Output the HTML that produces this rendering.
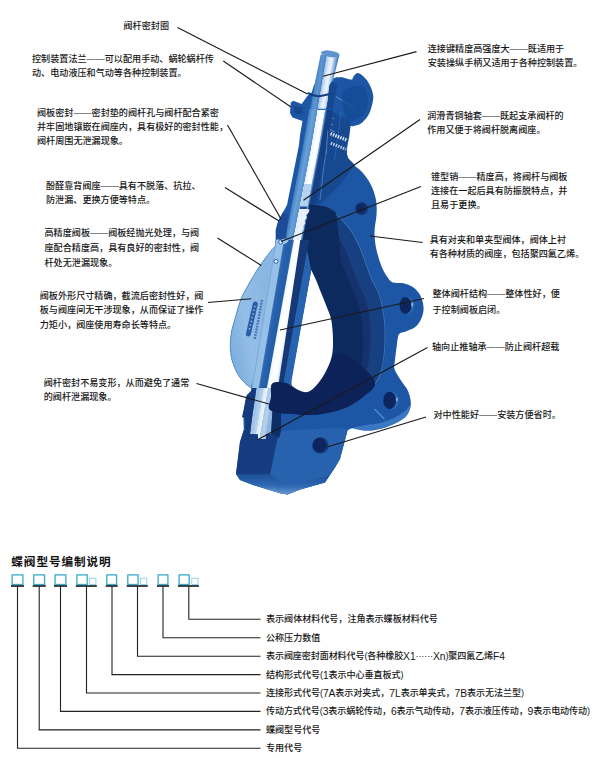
<!DOCTYPE html>
<html lang="zh-CN"><head><meta charset="utf-8"><title>蝶阀结构特点</title>
<style>
html,body{margin:0;padding:0;background:#fff;}
body{width:600px;height:758px;overflow:hidden;}
svg{display:block;font-family:"Liberation Sans","Noto Sans CJK SC",sans-serif;}
</style></head><body>
<svg width="600" height="758" viewBox="0 0 600 758">
<rect width="600" height="758" fill="#fff"/>
<filter id="soft" x="-5%" y="-5%" width="110%" height="110%"><feGaussianBlur stdDeviation="0.45"/></filter>
<g filter="url(#soft)">
<defs><linearGradient id="gCol" gradientUnits="userSpaceOnUse" x1="312.07" y1="98.12" x2="331.22" y2="101.37"><stop offset="0.0000" stop-color="#2b66b0"/><stop offset="0.0457" stop-color="#4a86c8"/><stop offset="0.2234" stop-color="#5f97d3"/><stop offset="0.3553" stop-color="#4a84c6"/><stop offset="0.3858" stop-color="#a5c6e9"/><stop offset="0.5279" stop-color="#dbe8f7"/><stop offset="0.6701" stop-color="#eef4fb"/><stop offset="0.7614" stop-color="#bdd5ee"/><stop offset="0.8579" stop-color="#7facdc"/><stop offset="1.0000" stop-color="#2e69b3"/></linearGradient><linearGradient id="gNeck" gradientUnits="userSpaceOnUse" x1="305.80" y1="127.92" x2="323.40" y2="130.91"><stop offset="0.0000" stop-color="#2b66b0"/><stop offset="0.0608" stop-color="#4a86c8"/><stop offset="0.2541" stop-color="#6aa0d8"/><stop offset="0.4641" stop-color="#5590cd"/><stop offset="0.4917" stop-color="#eaf2fb"/><stop offset="0.6961" stop-color="#ffffff"/><stop offset="0.8729" stop-color="#f2f7fc"/><stop offset="0.9061" stop-color="#7fabdb"/><stop offset="1.0000" stop-color="#24589f"/></linearGradient><linearGradient id="gNeck2" gradientUnits="userSpaceOnUse" x1="292.76" y1="197.63" x2="310.20" y2="201.03"><stop offset="0.0000" stop-color="#2b66b0"/><stop offset="0.0608" stop-color="#4a86c8"/><stop offset="0.2541" stop-color="#6aa0d8"/><stop offset="0.4641" stop-color="#5590cd"/><stop offset="0.4917" stop-color="#eaf2fb"/><stop offset="0.6961" stop-color="#ffffff"/><stop offset="0.8729" stop-color="#f2f7fc"/><stop offset="0.9061" stop-color="#7fabdb"/><stop offset="1.0000" stop-color="#24589f"/></linearGradient><linearGradient id="gStem" gradientUnits="userSpaceOnUse" x1="266.24" y1="296.53" x2="305.12" y2="303.14"><stop offset="0.0000" stop-color="#9cc4e8"/><stop offset="0.1875" stop-color="#93bce3"/><stop offset="0.2000" stop-color="#2c66b0"/><stop offset="0.3250" stop-color="#245ea8"/><stop offset="0.4425" stop-color="#2f6cb6"/><stop offset="0.4550" stop-color="#eef5fc"/><stop offset="0.5750" stop-color="#ffffff"/><stop offset="0.6750" stop-color="#eaf2fb"/><stop offset="0.6950" stop-color="#163c7c"/><stop offset="0.8375" stop-color="#14397a"/><stop offset="0.8550" stop-color="#2a66b2"/><stop offset="1.0000" stop-color="#1f59a6"/></linearGradient><linearGradient id="gHubD" gradientUnits="userSpaceOnUse" x1="274.02" y1="297.85" x2="283.73" y2="299.50"><stop offset="0.0000" stop-color="#3873bb"/><stop offset="0.2000" stop-color="#2a64ae"/><stop offset="0.8000" stop-color="#235ca6"/><stop offset="1.0000" stop-color="#3a76be"/></linearGradient><linearGradient id="gWhite" gradientUnits="userSpaceOnUse" x1="281.30" y1="299.09" x2="292.48" y2="300.99"><stop offset="0.0000" stop-color="#cfe1f4"/><stop offset="0.1739" stop-color="#f4f9fd"/><stop offset="0.4783" stop-color="#ffffff"/><stop offset="0.8261" stop-color="#f6fafe"/><stop offset="1.0000" stop-color="#c5daf0"/></linearGradient><linearGradient id="gEnd" gradientUnits="userSpaceOnUse" x1="255.66" y1="405.85" x2="271.21" y2="408.50"><stop offset="0.0000" stop-color="#9fc2e6"/><stop offset="0.3125" stop-color="#b9d3ef"/><stop offset="0.3438" stop-color="#dbe8f6"/><stop offset="0.5625" stop-color="#eef4fb"/><stop offset="0.5938" stop-color="#a9c9ea"/><stop offset="0.8125" stop-color="#b7d2ee"/><stop offset="1.0000" stop-color="#8fb6df"/></linearGradient><linearGradient id="gDisc" gradientUnits="userSpaceOnUse" x1="228" y1="335" x2="272" y2="325">
<stop offset="0" stop-color="#7fb0df"/><stop offset=".45" stop-color="#94bee8"/><stop offset="1" stop-color="#8ab6e2"/></linearGradient>
<radialGradient id="gHole" cx=".42" cy=".48" r=".6"><stop offset="0" stop-color="#0d2559"/><stop offset=".72" stop-color="#132f6b"/><stop offset="1" stop-color="#1b4d98"/></radialGradient>
<linearGradient id="gBot" x1="0" y1="0" x2="0" y2="1"><stop offset="0" stop-color="#1d4f98"/><stop offset=".6" stop-color="#2f69b2"/><stop offset="1" stop-color="#6c9bd2"/></linearGradient>
</defs>
<path d="M302.5 121 L292.5 117.5 L290.0 113.0 L290.8 102.5 L293.3 100.8 L301.7 104.0 L307.5 95.8 L311.7 92.5 L314.0 85.0 L336.0 77.5 L342.0 77.2 L350.0 79.6 L352.3 79.5 L352.3 79.5 C352.6 78.9 353.1 76.8 354.0 75.7 C354.9 74.6 356.5 73.2 357.7 73.0 C358.9 72.8 359.8 73.6 361.4 74.8 C362.9 76.0 365.5 78.3 367.0 80.3 C368.5 82.3 369.6 84.5 370.6 86.8 C371.6 89.1 372.6 91.9 373.0 94.2 C373.4 96.5 373.4 98.0 373.0 100.6 C372.6 103.2 371.6 107.1 370.6 109.9 C369.6 112.7 368.7 114.9 367.0 117.2 C365.3 119.5 362.8 122.2 360.5 123.7 C358.2 125.2 355.1 125.6 353.5 126.0 C351.9 126.4 351.1 126.0 350.6 126.0 L350.6 126.0 C350.4 127.5 350.1 131.0 349.5 135.0 C348.9 139.0 347.2 146.2 347.0 150.0 C346.8 153.8 346.8 155.5 348.0 158.0 C349.2 160.5 351.6 162.6 354.0 165.0 C356.4 167.4 359.7 169.2 362.5 172.5 C365.3 175.8 368.8 180.4 371.0 185.0 C373.2 189.6 375.1 195.0 376.0 200.0 C376.9 205.0 376.8 209.6 376.5 215.0 C376.2 220.4 374.5 226.7 374.5 232.5 C374.5 238.3 375.2 244.2 376.5 250.0 C377.8 255.8 380.1 262.8 382.0 267.5 C383.9 272.2 386.5 275.7 388.0 278.0 C389.5 280.3 390.5 280.9 391.0 281.5 L391.0 281.5 C391.5 281.7 392.1 282.5 394.2 282.8 C396.3 283.1 400.4 282.6 403.5 283.3 C406.6 284.0 410.1 285.3 412.7 287.0 C415.3 288.7 417.5 290.9 419.2 293.5 C420.9 296.1 422.2 299.6 422.9 302.7 C423.6 305.8 423.8 308.9 423.3 312.0 C422.8 315.1 421.5 318.6 420.0 321.2 C418.5 323.8 416.8 325.9 414.5 327.6 C412.2 329.3 408.6 330.3 406.2 331.3 C403.8 332.3 401.2 332.5 399.8 333.6 C398.4 334.7 398.4 335.4 397.9 337.8 C397.3 340.2 397.0 344.3 396.5 348.0 C396.0 351.7 395.3 356.5 395.0 360.0 C394.7 363.5 393.6 365.7 394.5 369.0 C395.4 372.3 398.4 376.3 400.7 380.0 C402.9 383.7 406.3 387.0 408.0 391.0 C409.7 395.0 411.0 400.0 410.8 404.0 C410.6 408.0 409.3 411.9 407.0 415.0 C404.7 418.1 401.4 420.1 397.0 422.4 C392.6 424.7 385.7 427.4 380.5 428.8 C375.3 430.2 370.5 430.7 365.9 430.6 C361.3 430.5 356.1 428.3 353.0 428.3 C349.9 428.3 348.4 430.2 347.5 430.6 L347.5 430.6 L345.0 440.0 L340.0 459.0 L335.0 467.5 L325.0 482.5 L300.0 489.5 L287.5 494.5 L279.0 493.0 L253.0 485.0 L240.0 480.0 L236.0 474.0 L240.0 442.0 L243.8 430.0 L243.3 415.0 L246.7 395.0 L258.0 385.0 L275.8 238.0 L275.8 230.0 L278.3 220.8 L283.3 211.7 L287.0 205.0 L293.0 175.0 L299.0 145.0 L300.0 135.0 Z" fill="#1c57a4"/>
<path d="M326.8 108.0 L350.8 121.7 L346.0 150.0 L348.0 158.0 L355.0 165.0 L340.0 185.0 L320.0 204.0 L304.1 204.0 Z" fill="#164890" />
<clipPath id="cInner"><path d="M305.5 208.0 C308.3 202.2 311.9 204.9 316.0 205.0 C320.1 205.1 325.7 206.2 330.0 208.5 C334.3 210.8 338.3 215.2 342.0 219.0 C345.7 222.8 349.0 226.5 352.0 231.0 C355.0 235.5 357.7 240.8 360.0 246.0 C362.3 251.2 364.0 256.7 366.0 262.0 C368.0 267.3 369.7 272.5 372.0 278.0 C374.3 283.5 377.8 288.0 380.0 295.0 C382.2 302.0 384.1 311.7 385.0 320.0 C385.9 328.3 386.0 336.5 385.5 345.0 C385.0 353.5 383.8 364.3 382.0 371.0 C380.2 377.7 378.2 380.7 375.0 385.0 C371.8 389.3 368.0 393.2 363.0 397.0 C358.0 400.8 352.0 405.2 345.0 408.0 C338.0 410.8 328.5 412.9 321.0 414.0 C313.5 415.1 307.7 415.1 300.0 414.5 C292.3 413.9 280.0 412.9 275.0 410.5 C270.0 408.1 270.4 404.6 270.0 400.0 C269.6 395.4 269.2 399.7 272.5 383.0 C275.8 366.3 285.9 320.2 290.0 300.0 C294.1 279.8 295.5 272.0 297.0 262.0 C298.5 252.0 297.6 249.0 299.0 240.0 C300.4 231.0 302.7 213.8 305.5 208.0 Z"/></clipPath>
<path d="M305.5 208.0 C308.3 202.2 311.9 204.9 316.0 205.0 C320.1 205.1 325.7 206.2 330.0 208.5 C334.3 210.8 338.3 215.2 342.0 219.0 C345.7 222.8 349.0 226.5 352.0 231.0 C355.0 235.5 357.7 240.8 360.0 246.0 C362.3 251.2 364.0 256.7 366.0 262.0 C368.0 267.3 369.7 272.5 372.0 278.0 C374.3 283.5 377.8 288.0 380.0 295.0 C382.2 302.0 384.1 311.7 385.0 320.0 C385.9 328.3 386.0 336.5 385.5 345.0 C385.0 353.5 383.8 364.3 382.0 371.0 C380.2 377.7 378.2 380.7 375.0 385.0 C371.8 389.3 368.0 393.2 363.0 397.0 C358.0 400.8 352.0 405.2 345.0 408.0 C338.0 410.8 328.5 412.9 321.0 414.0 C313.5 415.1 307.7 415.1 300.0 414.5 C292.3 413.9 280.0 412.9 275.0 410.5 C270.0 408.1 270.4 404.6 270.0 400.0 C269.6 395.4 269.2 399.7 272.5 383.0 C275.8 366.3 285.9 320.2 290.0 300.0 C294.1 279.8 295.5 272.0 297.0 262.0 C298.5 252.0 297.6 249.0 299.0 240.0 C300.4 231.0 302.7 213.8 305.5 208.0 Z" fill="#12326c" />
<g clip-path="url(#cInner)"><path d="M316.0 205.0 C318.3 205.6 325.7 206.2 330.0 208.5 C334.3 210.8 338.3 215.2 342.0 219.0 C345.7 222.8 349.0 226.5 352.0 231.0 C355.0 235.5 357.7 240.8 360.0 246.0 C362.3 251.2 364.0 256.7 366.0 262.0 C368.0 267.3 369.7 272.5 372.0 278.0 C374.3 283.5 377.8 288.0 380.0 295.0 C382.2 302.0 384.1 311.7 385.0 320.0 C385.9 328.3 386.0 336.5 385.5 345.0 C385.0 353.5 383.8 364.3 382.0 371.0 C380.2 377.7 378.2 380.7 375.0 385.0 C371.8 389.3 365.0 395.0 363.0 397.0" fill="none" stroke="#173f80" stroke-width="30" stroke-linecap="butt"/><path d="M316.0 205.0 C318.3 205.6 325.7 206.2 330.0 208.5 C334.3 210.8 338.3 215.2 342.0 219.0 C345.7 222.8 349.0 226.5 352.0 231.0 C355.0 235.5 357.7 240.8 360.0 246.0 C362.3 251.2 364.0 256.7 366.0 262.0 C368.0 267.3 369.7 272.5 372.0 278.0 C374.3 283.5 377.8 288.0 380.0 295.0 C382.2 302.0 384.1 311.7 385.0 320.0 C385.9 328.3 386.0 336.5 385.5 345.0 C385.0 353.5 383.8 364.3 382.0 371.0 C380.2 377.7 378.2 380.7 375.0 385.0 C371.8 389.3 365.0 395.0 363.0 397.0" fill="none" stroke="#3f7cc4" stroke-width="2.4" opacity=".8"/></g>
<g clip-path="url(#cInner)"><path d="M306.0 214.0 C306.5 218.3 308.1 230.7 309.0 240.0 C309.9 249.3 310.1 263.3 311.3 270.0 C312.5 276.7 314.3 276.1 316.0 280.0 C317.7 283.9 319.5 288.9 321.3 293.3 C323.1 297.8 325.0 302.2 326.7 306.7 C328.4 311.1 330.2 314.4 331.3 320.0 C332.4 325.6 332.9 333.9 333.0 340.0 C333.1 346.1 333.0 351.2 331.7 356.7 C330.4 362.2 327.5 368.3 325.0 373.0 C322.5 377.7 319.5 381.9 316.7 385.0 C313.9 388.1 311.1 390.7 308.3 391.7 C305.5 392.7 302.8 391.8 300.0 390.8 C297.2 389.8 293.1 386.6 291.7 385.8" fill="none" stroke="#0f2a5f" stroke-width="60" stroke-linecap="round"/></g>
<path d="M272.5 383.0 C276.0 380.7 286.4 384.9 291.0 386.3 C295.6 387.7 297.1 390.3 300.0 391.3 C302.9 392.3 305.5 393.2 308.3 392.2 C311.1 391.2 313.9 388.6 316.7 385.5 C319.5 382.4 322.5 378.2 325.0 373.5 C327.5 368.8 328.4 360.1 331.7 357.0 C335.0 353.9 338.9 352.5 345.0 355.0 C351.1 357.5 363.0 367.0 368.0 372.0 C373.0 377.0 375.8 380.8 375.0 385.0 C374.2 389.2 368.0 393.2 363.0 397.0 C358.0 400.8 352.0 405.2 345.0 408.0 C338.0 410.8 328.5 412.9 321.0 414.0 C313.5 415.1 307.7 415.1 300.0 414.5 C292.3 413.9 280.0 412.9 275.0 410.5 C270.0 408.1 270.4 404.6 270.0 400.0 C269.6 395.4 269.0 385.3 272.5 383.0 Z" fill="#0b2458" />
<path d="M311.3 270.0 C312.1 271.7 314.3 276.1 316.0 280.0 C317.7 283.9 319.5 288.9 321.3 293.3 C323.1 297.8 325.0 302.2 326.7 306.7 C328.4 311.1 330.2 314.4 331.3 320.0 C332.4 325.6 332.9 333.9 333.0 340.0 C333.1 346.1 333.0 351.2 331.7 356.7 C330.4 362.2 327.5 368.3 325.0 373.0 C322.5 377.7 319.5 381.9 316.7 385.0 C313.9 388.1 311.1 390.7 308.3 391.7 C305.5 392.7 302.8 391.8 300.0 390.8 C297.2 389.8 293.1 386.6 291.7 385.8 L291 380 L311.3 270 Z" fill="#fff"/>
<path d="M279.0 431.0 L342.5 427.5 L347.5 430.6 L345.0 440.0 L340.0 459.0 L335.0 467.5 L325.0 482.5 L300.0 489.5 L287.5 494.5 L279.0 493.0 L270.0 474.0 Z" fill="#2562ad" />
<path d="M243.8 430.0 L258.0 436.0 L279.0 431.0 L270.0 474.0 L236.0 474.0 L240.0 442.0 Z" fill="#123b80" />
<path d="M236.0 474.0 L270.0 474.0 L279.0 493.0 L253.0 485.0 L240.0 480.0 Z" fill="url(#gBot)" />
<path d="M270.0 474.0 L279.0 493.0 L287.5 494.5 L300.0 489.5 L325.0 482.5 L329.0 476.0 L300.0 482.0 L285.0 485.0 Z" fill="url(#gBot)" />
<path d="M353.0 428.0 C353.0 428.9 361.3 430.5 365.9 430.6 C370.5 430.7 375.3 430.2 380.5 428.8 C385.7 427.4 392.6 424.7 397.0 422.4 C401.4 420.1 404.7 418.1 407.0 415.0 C409.3 411.9 411.0 404.8 410.8 404.0 C410.6 403.2 408.5 407.8 406.0 410.0 C403.5 412.2 400.3 414.8 396.0 417.0 C391.7 419.2 385.0 421.7 380.0 423.0 C375.0 424.3 370.5 424.2 366.0 425.0 C361.5 425.8 353.0 427.1 353.0 428.0 Z" fill="#3a78c2" />
<path d="M275.3 246.7 C272.3 248.2 269.1 253.3 266.0 257.3 C262.9 261.3 259.8 265.8 256.7 270.7 C253.6 275.6 250.0 281.8 247.3 286.7 C244.6 291.6 242.8 294.4 240.7 300.0 C238.6 305.6 236.3 314.5 234.7 320.0 C233.1 325.5 232.0 328.6 231.3 333.0 C230.6 337.4 230.2 342.2 230.3 346.7 C230.4 351.2 230.8 355.6 232.0 360.0 C233.2 364.4 235.6 370.0 237.3 373.3 C239.0 376.6 240.3 378.0 242.0 380.0 C243.7 382.0 245.7 384.1 247.3 385.3 C248.9 386.6 250.2 387.9 251.5 387.5 C252.8 387.1 253.2 383.8 255.0 383.0 C256.8 382.2 259.5 391.8 262.0 383.0 C264.5 374.2 266.3 352.5 270.0 330.0 C273.7 307.5 283.1 261.9 284.0 248.0 C284.9 234.1 278.3 245.1 275.3 246.7 Z" fill="url(#gDisc)" stroke="#4f8ac8" stroke-width="1"/>
<path d="M257.0 384.0 L273.0 384.0 L273.0 411.0 L272.5 411.0 L271.0 434.0 L266.0 434.0 L266.0 439.0 L258.0 439.0 L258.0 434.0 L250.0 434.0 L252.0 418.0 L255.0 398.0 Z" fill="url(#gEnd)" />
<path d="M272.5 410.0 L281.0 412.0 L281.0 431.0 L279.0 438.0 L271.0 434.0 Z" fill="#0f2f66" />
<path d="M252.0 383.0 L251.0 391.0 L246.0 397.0 L244.0 408.0 L242.0 417.0 L245.0 418.0 L245.0 430.0 L247.0 440.0 L250.0 434.0 L252.0 418.0 L255.0 398.0 L257.0 384.0 Z" fill="#123a7c" />
<path d="M276.1 240.0 L284.6 240.0 L259.2 388.0 L251.7 388.0 Z" fill="#97c0e6" />
<path d="M274.9 246.0 L275.9 246.0 L252.7 388.0 L251.7 388.0 Z" fill="#78a8d8" />
<path d="M284.1 240.0 L294.4 240.0 L267.4 388.0 L258.7 388.0 Z" fill="url(#gHubD)" />
<path d="M300.3 240.0 L309.1 240.0 L282.5 388.0 L278.0 388.0 Z" fill="#133974" />
<path d="M307.1 250.0 L311.1 270.0 L290.3 388.0 L282.5 388.0 Z" fill="#2663b0" />
<path d="M293.9 240.0 L300.3 240.0 L278.0 388.0 L266.9 388.0 Z" fill="url(#gWhite)" />
<ellipse cx="283" cy="240" rx="5.5" ry="4" fill="#9dc5e9"/>
<path d="M272.8 383.0 C276.1 381.2 288.0 381.5 291.0 386.3 C294.0 391.1 294.5 408.1 291.0 412.0 C287.5 415.9 273.3 412.5 270.0 410.0 C266.7 407.5 270.5 401.5 271.0 397.0 C271.5 392.5 269.5 384.8 272.8 383.0 Z" fill="#0b2458" />
<path d="M309.0 109.0 L307.0 121.0 L304.6 135.0 L302.0 150.0 L320.1 150.0 L322.7 135.0 L325.1 121.0 L327.1 109.0 Z" fill="url(#gNeck)" />
<path d="M302.0 150.0 L297.2 175.0 L292.3 200.0 L288.0 222.0 L284.5 240.0 L302.6 240.0 L306.1 222.0 L310.4 200.0 L315.3 175.0 L320.1 150.0 Z" fill="url(#gNeck2)" />
<path d="M283.3 211.7 L278.3 220.8 L275.8 230.0 L275.8 238.0 L280.0 240.0 L286.0 238.0 L288.0 214.0 Z" fill="#1a4c98" />
<path d="M320.7 54.5 L339.3 55.0 L326.2 109.0 L309.6 109.0 L312.4 95.0 Z" fill="url(#gCol)" />
<ellipse cx="330.3" cy="53.8" rx="9.4" ry="3.2" fill="#5f93cf" transform="rotate(8 330.3 53.8)"/>
<path d="M336.0 77.5 L331.5 82.0 L329.3 86.0 L328.0 100.0 L326.6 109.0 L340.0 112.0 L345.0 78.0 Z" fill="#1c57a4" />
<path d="M331.5 82.0 L329.3 86.0 L328.0 100.0 L326.6 109.0 L332.6 109.0 L337.4 84.0 Z" fill="#15468f" />
<path d="M318.1 109.3 L326.0 109.3" fill="none" stroke="#2f69b2" stroke-width="1.3" stroke-linecap="round" stroke-linejoin="round" />
<path d="M336.5 97.0 L354.0 107.0" fill="none" stroke="#5d94d0" stroke-width="1.3" stroke-linecap="round" stroke-linejoin="round" opacity=".8"/>
<path d="M308.3 93.3 C310.0 93.8 314.9 96.0 318.3 96.2 C321.7 96.4 326.8 94.6 328.5 94.3" fill="none" stroke="#153e80" stroke-width="2" stroke-linecap="round" stroke-linejoin="round" />
<path d="M327.4 110.0 L332.9 110.0 L315.4 205.0 L309.9 205.0 Z" fill="#133f85" />
<path d="M341.1 112.0 L334.7 160.0" fill="none" stroke="#2f6cb8" stroke-width="1" stroke-linecap="round" stroke-linejoin="round" opacity=".7"/>
<path d="M343.0 92.0 C345.8 87.0 357.8 84.7 362.0 86.0 C366.2 87.3 367.7 95.3 368.0 100.0 C368.3 104.7 366.7 110.5 364.0 114.0 C361.3 117.5 355.2 120.7 352.0 121.0 C348.8 121.3 346.5 120.8 345.0 116.0 C343.5 111.2 340.2 97.0 343.0 92.0 Z" fill="#174a94" opacity=".75"/>
<path d="M294.0 106.0 L303.0 107.5 L302.5 114.5 L293.8 113.0 Z" fill="#164890" />
<path d="M330.5 133.6L346.5 140" stroke="#e4eef9" stroke-width="3.4" stroke-dasharray="1.5 1.1" fill="none" opacity=".9"/>
<path d="M330.8 143.2L346 149.4" stroke="#d5e4f5" stroke-width="3" stroke-dasharray="1.5 1.1" fill="none" opacity=".85"/>
<path d="M332.5 118L334 119M331 124L333 125.2M330 129.5L335 132" stroke="#9fc0e6" stroke-width="1" fill="none" opacity=".6"/>
<path d="M327.8 131.0 L326.2 153.0" fill="none" stroke="#5a8fce" stroke-width="1" stroke-linecap="round" stroke-linejoin="round" opacity=".8"/>
<path d="M304.3 184.0 L311.4 184.0 L306.9 207.0 L299.8 207.0 Z" fill="#b5d1ee" />
<path d="M299.8 207.0 L306.5 207.0 L300.1 240.0 L293.4 240.0 Z" fill="#e6f0fa" />
<path d="M299.9 206.5 L307.2 206.5 L306.7 209.0 L299.4 209.0 Z" fill="#1b4d98" />
<path d="M305.6 209.0 L309.6 209.5 L308.4 213.0 L306.0 215.0 L306.9 218.0 L304.5 220.5 L305.3 223.5 L303.1 226.0 L303.8 229.0 L301.8 231.5 L302.3 234.0 L300.4 236.0 Z" fill="#e6f0fa" />
<path d="M326.7 150.0 L323.8 166.7 L320.0 200.0" fill="none" stroke="#4f86c6" stroke-width="1" stroke-linecap="round" stroke-linejoin="round" opacity=".8"/>
<circle cx="280.7" cy="242" r="2" fill="#eaf3fb" stroke="#2b64ad" stroke-width="1"/>
<circle cx="276" cy="261.3" r="2" fill="#eaf3fb" stroke="#2b64ad" stroke-width="1"/>
<path d="M255.3 304L248.4 334" stroke="#2a5da4" stroke-width="5" fill="none" stroke-linecap="round"/>
<path d="M255 306L248.8 332" stroke="#9fc5e8" stroke-width="1.6" stroke-dasharray="1.2 2.6" fill="none"/>
<path d="M262 300L254.8 339" stroke="#3467ad" stroke-width="2.4" stroke-dasharray="1.8 1.1" fill="none" opacity=".85"/>
<path d="M375.0 409.5 L384.0 418.7" fill="none" stroke="#5b93d1" stroke-width="1.2" stroke-linecap="round" stroke-linejoin="round" />
<ellipse cx="361.8" cy="208.6" rx="6.6" ry="6.4" fill="url(#gHole)"/>
<ellipse cx="406.8" cy="305.5" rx="7.6" ry="8.8" fill="#2a66b2"/>
<ellipse cx="405.40000000000003" cy="305.5" rx="6.0" ry="8.4" fill="#0e2860"/>
<ellipse cx="412.20000000000005" cy="304.5" rx="1" ry="2.2" fill="#9cc1e8" opacity=".8"/>
<ellipse cx="391" cy="400.4" rx="8" ry="9.2" fill="#2a66b2"/>
<ellipse cx="389.6" cy="400.4" rx="6.4" ry="8.799999999999999" fill="#0e2860"/>
<ellipse cx="396.8" cy="399.4" rx="1" ry="2.2" fill="#9cc1e8" opacity=".8"/>
<ellipse cx="320.5" cy="445.5" rx="8.2" ry="8.2" fill="#173f86"/>
<ellipse cx="319.6" cy="445.2" rx="7" ry="7.4" fill="#0e2860"/>
</g>
<rect x="12.1" y="574.9" width="10.8" height="9.6" fill="#fff" stroke="#38abcb" stroke-width="1.3"/>
<path d="M11.0 586H24.0" stroke="#2b3034" stroke-width="1.8" fill="none"/>
<path d="M17.5 586V748.3H260.5" stroke="#222" stroke-width="1.1" fill="none"/>
<rect x="33.8" y="574.9" width="10.8" height="9.6" fill="#fff" stroke="#38abcb" stroke-width="1.3"/>
<path d="M32.7 586H45.7" stroke="#2b3034" stroke-width="1.8" fill="none"/>
<path d="M39.2 586V729.9H260.5" stroke="#222" stroke-width="1.1" fill="none"/>
<rect x="55.1" y="574.9" width="10.8" height="9.6" fill="#fff" stroke="#38abcb" stroke-width="1.3"/>
<path d="M54.0 586H67.0" stroke="#2b3034" stroke-width="1.8" fill="none"/>
<path d="M60.5 586V711.4H260.5" stroke="#222" stroke-width="1.1" fill="none"/>
<rect x="76.9" y="574.9" width="10.3" height="9.6" fill="#fff" stroke="#38abcb" stroke-width="1.3"/>
<rect x="89.7" y="578.2" width="6.2" height="6.4" fill="#fff" stroke="#7ccbe2" stroke-width=".8"/>
<path d="M75.8 586H96.8" stroke="#2b3034" stroke-width="1.8" fill="none"/>
<path d="M86.5 586V693.0H260.5" stroke="#222" stroke-width="1.1" fill="none"/>
<rect x="106.8" y="574.9" width="9.8" height="9.6" fill="#fff" stroke="#38abcb" stroke-width="1.3"/>
<path d="M105.7 586H117.7" stroke="#2b3034" stroke-width="1.8" fill="none"/>
<path d="M112 586V674.6H260.5" stroke="#222" stroke-width="1.1" fill="none"/>
<rect x="127.8" y="574.9" width="10.3" height="9.6" fill="#fff" stroke="#38abcb" stroke-width="1.3"/>
<rect x="140.6" y="578.2" width="6.2" height="6.4" fill="#fff" stroke="#7ccbe2" stroke-width=".8"/>
<path d="M126.7 586H147.7" stroke="#2b3034" stroke-width="1.8" fill="none"/>
<path d="M137.5 586V656.2H260.5" stroke="#222" stroke-width="1.1" fill="none"/>
<rect x="158.1" y="574.9" width="9.8" height="9.6" fill="#fff" stroke="#38abcb" stroke-width="1.3"/>
<path d="M157.0 586H169.0" stroke="#2b3034" stroke-width="1.8" fill="none"/>
<path d="M163 586V637.7H260.5" stroke="#222" stroke-width="1.1" fill="none"/>
<rect x="179.1" y="574.9" width="10.1" height="9.6" fill="#fff" stroke="#38abcb" stroke-width="1.3"/>
<rect x="191.8" y="578.2" width="6.2" height="6.4" fill="#fff" stroke="#7ccbe2" stroke-width=".8"/>
<path d="M178.0 586H198.9" stroke="#2b3034" stroke-width="1.8" fill="none"/>
<path d="M188.8 586V619.3H260.5" stroke="#222" stroke-width="1.1" fill="none"/>
<path d="M177.5 27.5L307.5 94" stroke="#1a1a1a" stroke-width="1.15" fill="none"/>
<path d="M223.3 61L291 107" stroke="#1a1a1a" stroke-width="1.15" fill="none"/>
<path d="M227.5 125L281 219" stroke="#1a1a1a" stroke-width="1.15" fill="none"/>
<path d="M225 187.5L279 221" stroke="#1a1a1a" stroke-width="1.15" fill="none"/>
<path d="M217.5 238L261.3 265.5" stroke="#1a1a1a" stroke-width="1.15" fill="none"/>
<path d="M208 302.5L251.3 298.7" stroke="#1a1a1a" stroke-width="1.15" fill="none"/>
<path d="M196.5 383.5L269 404" stroke="#1a1a1a" stroke-width="1.15" fill="none"/>
<path d="M416.5 51.6L323 76.3" stroke="#1a1a1a" stroke-width="1.15" fill="none"/>
<path d="M420 119.5L303.5 200.3" stroke="#1a1a1a" stroke-width="1.15" fill="none"/>
<path d="M421 186.5L281 241.5" stroke="#1a1a1a" stroke-width="1.15" fill="none"/>
<path d="M422.5 242.5L370 236" stroke="#1a1a1a" stroke-width="1.15" fill="none"/>
<path d="M424 298.5L280 330" stroke="#1a1a1a" stroke-width="1.15" fill="none"/>
<path d="M427.5 347.5L258 439.5" stroke="#1a1a1a" stroke-width="1.15" fill="none"/>
<path d="M426 417L327 447" stroke="#1a1a1a" stroke-width="1.15" fill="none"/>
<text x="123.5" y="26.25" font-size="9.1" font-weight="500" fill="#161616" dominant-baseline="central">阀杆密封圈</text>
<text x="32" y="58.75" font-size="9.1" font-weight="500" fill="#161616" dominant-baseline="central">控制装置法兰——可以配用手动、蜗轮蜗杆传</text>
<text x="32" y="72.50" font-size="9.1" font-weight="500" fill="#161616" dominant-baseline="central">动、电动液压和气动等各种控制装置。</text>
<text x="37" y="113.25" font-size="9.1" font-weight="500" fill="#161616" dominant-baseline="central">阀板密封——密封垫的阀杆孔与阀杆配合紧密</text>
<text x="37" y="127.00" font-size="9.1" font-weight="500" fill="#161616" dominant-baseline="central">并牢固地镶嵌在阀座内，具有极好的密封性能，</text>
<text x="37" y="140.75" font-size="9.1" font-weight="500" fill="#161616" dominant-baseline="central">阀杆周围无泄漏现象。</text>
<text x="46" y="186.25" font-size="9.1" font-weight="500" fill="#161616" dominant-baseline="central">酚醛靠背阀座——具有不脱落、抗拉、</text>
<text x="46" y="200.30" font-size="9.1" font-weight="500" fill="#161616" dominant-baseline="central">防泄漏、更换方便等特点。</text>
<text x="44.5" y="232.75" font-size="9.1" font-weight="500" fill="#161616" dominant-baseline="central">高精度阀板——阀板经抛光处理，与阀</text>
<text x="44.5" y="247.75" font-size="9.1" font-weight="500" fill="#161616" dominant-baseline="central">座配合精度高，具有良好的密封性，阀</text>
<text x="44.5" y="262.50" font-size="9.1" font-weight="500" fill="#161616" dominant-baseline="central">杆处无泄漏现象。</text>
<text x="39.75" y="296.00" font-size="9.1" font-weight="500" fill="#161616" dominant-baseline="central">阀板外形尺寸精确，截流后密封性好，阀</text>
<text x="39.75" y="310.00" font-size="9.1" font-weight="500" fill="#161616" dominant-baseline="central">板与阀座间无干涉现象，从而保证了操作</text>
<text x="39.75" y="324.75" font-size="9.1" font-weight="500" fill="#161616" dominant-baseline="central">力矩小，阀座使用寿命长等特点。</text>
<text x="43.75" y="383.25" font-size="9.1" font-weight="500" fill="#161616" dominant-baseline="central">阀杆密封不易变形，从而避免了通常</text>
<text x="43.75" y="397.00" font-size="9.1" font-weight="500" fill="#161616" dominant-baseline="central">的阀杆泄漏现象。</text>
<text x="427.75" y="49.00" font-size="9.1" font-weight="500" fill="#161616" dominant-baseline="central">连接键精度高强度大——既适用于</text>
<text x="427.75" y="62.75" font-size="9.1" font-weight="500" fill="#161616" dominant-baseline="central">安装操纵手柄又适用于各种控制装置。</text>
<text x="427.25" y="116.00" font-size="9.1" font-weight="500" fill="#161616" dominant-baseline="central">润滑青铜轴套——既起支承阀杆的</text>
<text x="427.25" y="129.75" font-size="9.1" font-weight="500" fill="#161616" dominant-baseline="central">作用又便于将阀杆脱离阀座。</text>
<text x="431" y="177.25" font-size="9.1" font-weight="500" fill="#161616" dominant-baseline="central">锥型销——精度高，将阀杆与阀板</text>
<text x="431" y="190.75" font-size="9.1" font-weight="500" fill="#161616" dominant-baseline="central">连接在一起后具有防振脱特点，并</text>
<text x="431" y="204.50" font-size="9.1" font-weight="500" fill="#161616" dominant-baseline="central">且易于更换。</text>
<text x="429.65" y="239.85" font-size="9.1" font-weight="500" fill="#161616" dominant-baseline="central">具有对夹和单夹型阀体，阀体上衬</text>
<text x="429.65" y="254.35" font-size="9.1" font-weight="500" fill="#161616" dominant-baseline="central">有各种材质的阀座，包括聚四氟乙烯。</text>
<text x="432.5" y="294.30" font-size="9.1" font-weight="500" fill="#161616" dominant-baseline="central">整体阀杆结构——整体性好，便</text>
<text x="432.5" y="309.85" font-size="9.1" font-weight="500" fill="#161616" dominant-baseline="central">于控制阀板启闭。</text>
<text x="432" y="346.50" font-size="9.1" font-weight="500" fill="#161616" dominant-baseline="central">轴向止推轴承——防止阀杆超载</text>
<text x="433.5" y="414.65" font-size="9.1" font-weight="500" fill="#161616" dominant-baseline="central">对中性能好——安装方便省时。</text>
<text x="11.3" y="561.00" font-size="11.6" font-weight="700" fill="#111" dominant-baseline="central" letter-spacing=".95">蝶阀型号编制说明</text>
<text x="266" y="619.30" font-size="9.05" font-weight="500" fill="#161616" dominant-baseline="central">表示阀体材料代号，注角表示蝶板材料代号</text>
<text x="266" y="637.73" font-size="9.05" font-weight="500" fill="#161616" dominant-baseline="central">公称压力数值</text>
<text x="266" y="656.16" font-size="9.05" font-weight="500" fill="#161616" dominant-baseline="central" textLength="239" lengthAdjust="spacing">表示阀座密封面材料代号(各种橡胶<tspan font-size="10.3">X1</tspan>······<tspan font-size="10.3">Xn</tspan>)聚四氟乙烯<tspan font-size="10.3">F4</tspan></text>
<text x="266" y="674.59" font-size="9.05" font-weight="500" fill="#161616" dominant-baseline="central" textLength="137.5" lengthAdjust="spacing">结构形式代号(<tspan font-size="10.3">1</tspan>表示中心垂直板式)</text>
<text x="266" y="693.02" font-size="9.05" font-weight="500" fill="#161616" dominant-baseline="central" textLength="258" lengthAdjust="spacing">连接形式代号(<tspan font-size="10.3">7A</tspan>表示对夹式，<tspan font-size="10.3">7L</tspan>表示单夹式，<tspan font-size="10.3">7B</tspan>表示无法兰型)</text>
<text x="266" y="711.45" font-size="9.05" font-weight="500" fill="#161616" dominant-baseline="central" textLength="324" lengthAdjust="spacing">传动方式代号(<tspan font-size="10.3">3</tspan>表示蜗轮传动，<tspan font-size="10.3">6</tspan>表示气动传动，<tspan font-size="10.3">7</tspan>表示液压传动，<tspan font-size="10.3">9</tspan>表示电动传动)</text>
<text x="266" y="729.88" font-size="9.05" font-weight="500" fill="#161616" dominant-baseline="central">蝶阀型号代号</text>
<text x="266" y="748.31" font-size="9.05" font-weight="500" fill="#161616" dominant-baseline="central">专用代号</text>
</svg>
</body></html>
